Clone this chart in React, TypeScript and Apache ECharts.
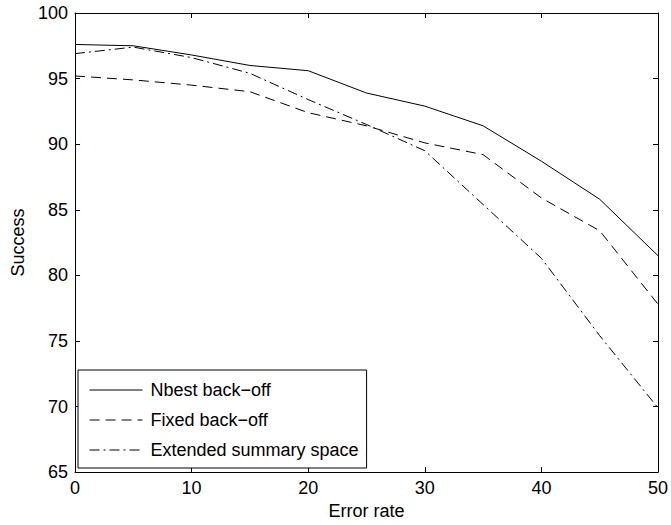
import React, { useEffect, useRef } from "react";
import * as echarts from "echarts";

const errorRates = [0, 5, 10, 15, 20, 25, 30, 35, 40, 45, 50];
const nbestBackoff = [97.6, 97.5, 96.8, 96.0, 95.6, 93.9, 92.9, 91.4, 88.7, 85.8, 81.5];
const fixedBackoff = [95.2, 94.9, 94.5, 94.0, 92.4, 91.4, 90.1, 89.2, 85.9, 83.4, 77.8];
const extendedSummary = [96.9, 97.4, 96.6, 95.4, 93.4, 91.5, 89.5, 85.4, 81.3, 75.4, 69.9];
const seriesNames = ["Nbest back\u2212off", "Fixed back\u2212off", "Extended summary space"];

const FONT = "Liberation Sans, Arial, Helvetica, sans-serif";

export default function App() {
  const ref = useRef<HTMLDivElement>(null);
  useEffect(() => {
    if (!ref.current) return;
    const chart = echarts.init(ref.current, undefined, { renderer: "svg" });
    const toPairs = (ys: number[]) => errorRates.map((x, i) => [x, ys[i]]);
    const axisCommon = {
      axisLine: { show: true, onZero: false, lineStyle: { color: "#000", width: 1 } },
      axisTick: { show: true, inside: true, length: 5, lineStyle: { color: "#000" } },
      splitLine: { show: false },
    };
    const mkSeries = (name: string, ys: number[], type: any) => ({
      name,
      type: "line",
      data: toPairs(ys),
      symbol: "none",
      showSymbol: false,
      lineStyle: { color: "#000", width: 1, type },
      itemStyle: { color: "#000" },
    });
    chart.setOption({
      animation: false,
      grid: { left: 75, right: 11, top: 13, bottom: 51, containLabel: false },
      xAxis: [
        {
          type: "value",
          min: 0,
          max: 50,
          interval: 10,
          position: "bottom",
          name: "Error rate",
          nameLocation: "middle",
          nameGap: 29,
          nameTextStyle: { fontFamily: FONT, fontSize: 18, color: "#000" },
          axisLabel: { fontFamily: FONT, fontSize: 18, color: "#000", margin: 7 },
          ...axisCommon,
        },
        {
          type: "value",
          min: 0,
          max: 50,
          interval: 10,
          position: "top",
          axisLabel: { show: false },
          ...axisCommon,
        },
      ],
      yAxis: [
        {
          type: "value",
          min: 65,
          max: 100,
          interval: 5,
          position: "left",
          name: "Success",
          nameLocation: "middle",
          nameGap: 46,
          nameTextStyle: { fontFamily: FONT, fontSize: 18, color: "#000" },
          axisLabel: { fontFamily: FONT, fontSize: 18, color: "#000", margin: 7 },
          ...axisCommon,
        },
        {
          type: "value",
          min: 65,
          max: 100,
          interval: 5,
          position: "right",
          axisLabel: { show: false },
          ...axisCommon,
        },
      ],
      legend: {
        orient: "vertical",
        left: 78,
        top: 370,
        padding: [11, 8, 9, 11],
        itemWidth: 53,
        itemHeight: 14,
        itemGap: 12,
        borderColor: "#000",
        borderWidth: 1,
        backgroundColor: "#fff",
        itemStyle: { opacity: 0 },
        lineStyle: { width: 1 },
        textStyle: { fontFamily: FONT, fontSize: 18, color: "#000", padding: [0, 0, 0, 3] },
        data: seriesNames,
      },
      series: [
        mkSeries(seriesNames[0], nbestBackoff, "solid"),
        mkSeries(seriesNames[1], fixedBackoff, [10, 6]),
        mkSeries(seriesNames[2], extendedSummary, [10, 4, 2, 4]),
      ],
    });
    return () => chart.dispose();
  }, []);
  return <div ref={ref} style={{ width: 671, height: 525, position: "absolute", left: 0, top: 0, background: "#fff" }} />;
}
